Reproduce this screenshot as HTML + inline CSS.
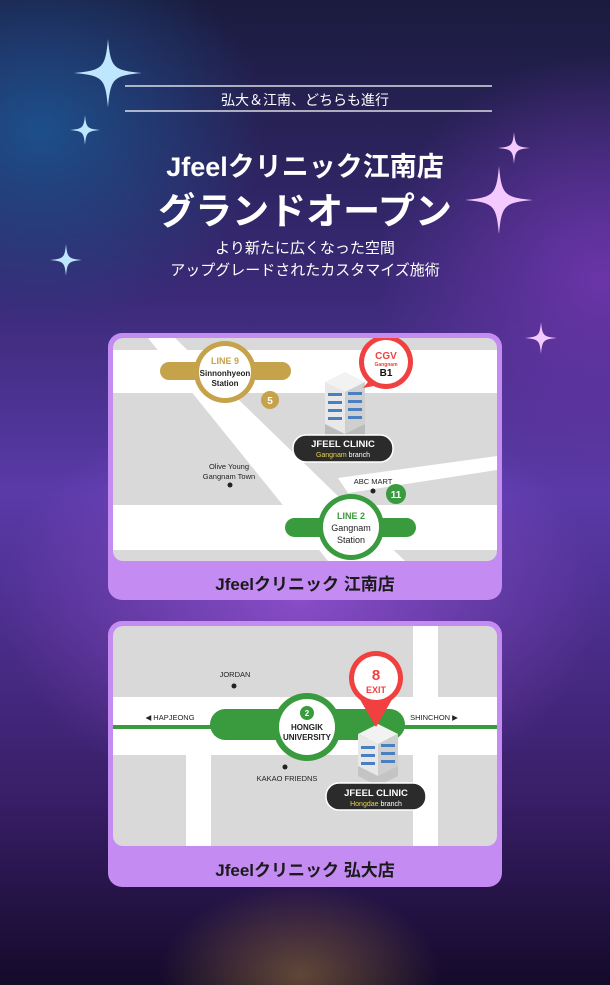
<!DOCTYPE html>
<html><head><meta charset="utf-8"><style>
*{margin:0;padding:0;box-sizing:border-box}
body{width:610px;height:985px;overflow:hidden;position:relative;font-family:"Liberation Sans","Noto Sans CJK JP",sans-serif;
background:
radial-gradient(ellipse 200px 130px at 300px 975px,rgba(210,160,70,0.4),transparent 70%),
radial-gradient(ellipse 400px 280px at 300px 600px,rgba(175,95,235,0.6),transparent 75%),
radial-gradient(ellipse 300px 260px at 40px 130px,#1d4f8a,transparent 75%),
radial-gradient(ellipse 300px 300px at 600px 280px,#6a35a8,transparent 75%),
linear-gradient(180deg,#1a1b3e 0%,#3b2a78 30%,#5a3aa8 50%,#3a1f6a 80%,#140a2a 100%);}
.t{position:absolute;left:0;width:610px;text-align:center;color:#fff}
.card{position:absolute;left:108px;width:394px;background:#c48cf2;border-radius:14px;overflow:hidden}
.map{position:absolute;left:5px;top:5px;width:384px;border-radius:10px;overflow:hidden;background:#d9d9d9}
.lab{position:absolute;left:0;width:394px;text-align:center;font-weight:bold;font-size:17px;color:#1a1a1a}
</style></head><body>
<svg width="610" height="985" style="position:absolute;left:0;top:0">
<defs><path id="st" d="M0,-1 C0.08,-0.15 0.15,-0.08 1,0 C0.15,0.08 0.08,0.15 0,1 C-0.08,0.15 -0.15,0.08 -1,0 C-0.15,-0.08 -0.08,-0.15 0,-1Z"/></defs>
<g fill="#bfe6ff"><use href="#st" transform="translate(108,73) scale(34)"/><use href="#st" transform="translate(85,130) scale(15)"/><use href="#st" transform="translate(66,260) scale(16)"/></g>
<g fill="#f4c9ff"><use href="#st" transform="translate(514,148) scale(16)"/><use href="#st" transform="translate(499,200) scale(34)"/><use href="#st" transform="translate(541,338) scale(16)"/></g>
<line x1="125" y1="86" x2="492" y2="86" stroke="#fff" stroke-width="1.2"/>
<line x1="125" y1="111" x2="492" y2="111" stroke="#fff" stroke-width="1.2"/>
</svg>
<div class="t" style="top:90px;font-size:14px">弘大＆江南、どちらも進行</div>
<div class="t" style="top:145px;font-size:27px;font-weight:bold">Jfeelクリニック江南店</div>
<div class="t" style="top:181px;font-size:37px;font-weight:bold">グランドオープン</div>
<div class="t" style="top:238px;font-size:15px;line-height:22px">より新たに広くなった空間<br>アップグレードされたカスタマイズ施術</div>

<div class="card" style="top:333px;height:267px">
<div class="map" style="height:223px">
<svg width="384" height="223" font-family="Liberation Sans,sans-serif" font-weight="bold" text-anchor="middle">
<rect x="0" y="12" width="384" height="43" fill="#fff"/>
<rect x="0" y="167" width="384" height="45" fill="#fff"/>
<polygon points="35,0 62,0 292,223 215,223" fill="#fff"/>
<polygon points="225,140 384,118 384,132 235,155" fill="#fff"/>
<rect x="47" y="24" width="131" height="18" rx="9" fill="#c6a24b"/>
<circle cx="112" cy="34" r="31" fill="#c6a24b"/><circle cx="112" cy="34" r="26" fill="#fff"/>
<text x="112" y="26" font-size="9" fill="#c6a24b">LINE 9</text>
<text x="112" y="38" font-size="8" fill="#222">Sinnonhyeon</text>
<text x="112" y="48" font-size="8" fill="#222">Station</text>
<circle cx="157" cy="62" r="9" fill="#c6a24b"/><text x="157" y="66" font-size="10" fill="#fff">5</text>
<polygon points="212,60 232,48 252,58 252,100 232,110 212,100" fill="#bbb"/>
<polygon points="212,44 232,34 252,44 232,54" fill="#f2f2f2"/>
<polygon points="212,44 232,54 232,96 212,86" fill="#e8e8e8"/>
<polygon points="232,54 252,44 252,86 232,96" fill="#cfcfcf"/>
<g fill="#4a7fc0"><rect x="215" y="55" width="14" height="3"/><rect x="215" y="63" width="14" height="3"/><rect x="215" y="71" width="14" height="3"/><rect x="215" y="79" width="14" height="3"/><rect x="235" y="54" width="14" height="3"/><rect x="235" y="62" width="14" height="3"/><rect x="235" y="70" width="14" height="3"/><rect x="235" y="78" width="14" height="3"/></g>
<polygon points="260,38 250,50 272,46" fill="#f04040"/>
<circle cx="273" cy="24" r="27" fill="#f04040"/><circle cx="273" cy="24" r="22" fill="#fff"/>
<text x="273" y="21" font-size="10" fill="#f04040">CGV</text><text x="273" y="28" font-size="5" fill="#f04040">Gangnam</text><text x="273" y="38" font-size="10" fill="#111">B1</text>
<rect x="180" y="97" width="100" height="27" rx="13" fill="#2b2b2b" stroke="#fff" stroke-width="1.5"/>
<text x="230" y="109" font-size="9.5" fill="#fff">JFEEL CLINIC</text><text x="230" y="119" font-size="7" font-weight="normal" fill="#fff"><tspan fill="#e8d34a">Gangnam</tspan> branch</text>
<text x="116" y="131" font-size="7.5" font-weight="normal" fill="#222">Olive Young</text><text x="116" y="141" font-size="7.5" font-weight="normal" fill="#222">Gangnam Town</text>
<circle cx="117" cy="147" r="2.5" fill="#222"/>
<text x="260" y="146" font-size="7.5" font-weight="normal" fill="#222">ABC MART</text><circle cx="260" cy="153" r="2.5" fill="#222"/>
<circle cx="283" cy="156" r="10" fill="#3a9a3e"/><text x="283" y="160" font-size="10" fill="#fff">11</text>
<rect x="172" y="180" width="131" height="19" rx="9.5" fill="#3a9a3e"/>
<circle cx="238" cy="189" r="33" fill="#3a9a3e"/><circle cx="238" cy="189" r="28" fill="#fff"/>
<text x="238" y="181" font-size="9" fill="#3a9a3e">LINE 2</text>
<text x="238" y="193" font-size="9" font-weight="normal" fill="#222">Gangnam</text>
<text x="238" y="205" font-size="9" font-weight="normal" fill="#222">Station</text>
</svg></div>
<div class="lab" style="top:237px">Jfeelクリニック 江南店</div>
</div>

<div class="card" style="top:621px;height:266px">
<div class="map" style="height:220px">
<svg width="384" height="220" font-family="Liberation Sans,sans-serif" font-weight="bold" text-anchor="middle">
<rect x="0" y="71" width="384" height="58" fill="#fff"/>
<rect x="73" y="129" width="25" height="91" fill="#fff"/>
<rect x="300" y="0" width="25" height="220" fill="#fff"/>
<rect x="0" y="99" width="384" height="4" fill="#3a9a3e"/>
<rect x="97" y="83" width="195" height="31" rx="15.5" fill="#3a9a3e"/>
<circle cx="194" cy="101" r="34" fill="#3a9a3e"/><circle cx="194" cy="101" r="28" fill="#fff"/>
<circle cx="194" cy="87" r="7" fill="#3a9a3e"/><text x="194" y="90" font-size="8" fill="#fff">2</text>
<text x="194" y="104" font-size="8" fill="#222">HONGIK</text><text x="194" y="114" font-size="8" fill="#222">UNIVERSITY</text>
<text x="57" y="94" font-size="7.5" font-weight="normal" fill="#222">◀ HAPJEONG</text>
<text x="321" y="94" font-size="7.5" font-weight="normal" fill="#222">SHINCHON ▶</text>
<text x="122" y="51" font-size="7.5" font-weight="normal" fill="#222">JORDAN</text><circle cx="121" cy="60" r="2.5" fill="#222"/>
<circle cx="172" cy="141" r="2.5" fill="#222"/><text x="174" y="155" font-size="7.5" font-weight="normal" fill="#222">KAKAO FRIEDNS</text>
<polygon points="245,118 265,108 285,118 285,150 265,160 245,150" fill="#c4c4c4"/>
<polygon points="245,108 265,98 285,108 265,118" fill="#f2f2f2"/>
<polygon points="245,108 265,118 265,150 245,140" fill="#e8e8e8"/>
<polygon points="265,118 285,108 285,140 265,150" fill="#cfcfcf"/>
<g fill="#4a7fc0"><rect x="248" y="120" width="14" height="3"/><rect x="248" y="128" width="14" height="3"/><rect x="248" y="136" width="14" height="3"/><rect x="268" y="118" width="14" height="3"/><rect x="268" y="126" width="14" height="3"/><rect x="268" y="134" width="14" height="3"/></g>
<polygon points="242,65 263,101 284,65" fill="#f04040"/>
<circle cx="263" cy="52" r="27" fill="#f04040"/><circle cx="263" cy="52" r="22" fill="#fff"/>
<text x="263" y="54" font-size="15" fill="#f04040">8</text><text x="263" y="67" font-size="9" fill="#f04040">EXIT</text>
<rect x="213" y="157" width="100" height="27" rx="13" fill="#2b2b2b" stroke="#fff" stroke-width="1.5"/>
<text x="263" y="170" font-size="9.5" fill="#fff">JFEEL CLINIC</text><text x="263" y="180" font-size="7" font-weight="normal" fill="#fff"><tspan fill="#e8d34a">Hongdae</tspan> branch</text>
</svg></div>
<div class="lab" style="top:235px">Jfeelクリニック 弘大店</div>
</div>
</body></html>
